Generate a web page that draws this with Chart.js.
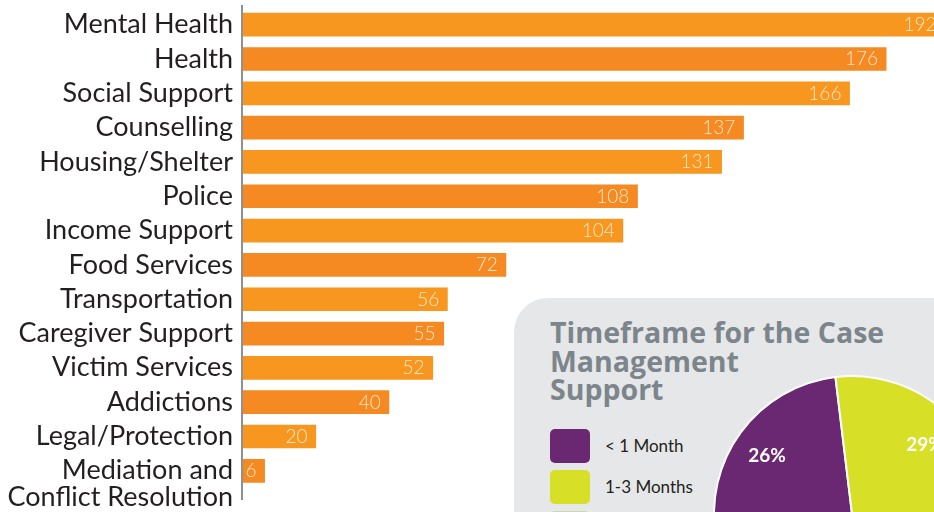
<!DOCTYPE html>
<html>
<head>
<meta charset="utf-8">
<script src="https://cdn.jsdelivr.net/npm/chart.js@4.4.1/dist/chart.umd.min.js"></script>
<style>
html,body{margin:0;padding:0;background:#fff;overflow:hidden;width:934px;height:512px}
#wrap{position:relative;width:934px;height:512px;overflow:hidden}
#bar{position:absolute;left:0;top:0}
#box{position:absolute;left:514px;top:298px;width:460px;height:260px;background:#E6E7E8;border-top-left-radius:34px}
#title{position:absolute;left:550px;top:318px;font:bold 28.5px 'Open Sans';color:#7C858B;line-height:28.5px;white-space:nowrap}
.sw{position:absolute;left:550px;width:40px;height:34px;border-radius:5px}
.lt{position:absolute;left:605px;font:17px Lato;color:#231F20;line-height:20px;white-space:nowrap}
#pie{position:absolute;left:692px;top:354px}
</style>
</head>
<body>
<div id="wrap">
  <canvas id="bar" width="934" height="512"></canvas>
  <div id="box"></div>
  <div id="title">Timeframe for the Case<br>Management<br>Support</div>
  <div id="legend"></div>
  <canvas id="pie" width="320" height="320"></canvas>
</div>
<script>
// ---- bar chart data ----
const categories = ['Mental Health','Health','Social Support','Counselling','Housing/Shelter','Police','Income Support','Food Services','Transportation','Caregiver Support','Victim Services','Addictions','Legal/Protection',['Mediation and','Conflict Resolution']];
const values = [192,176,166,137,131,108,104,72,56,55,52,40,20,6];
const barLight = '#F7971F';
const barDark = '#F48A21';

// ---- pie chart data ----
const pieLabels = ['< 1 Month','1-3 Months','3+ Months'];
const pieValues = [26,29,45];
const pieColors = ['#6A2873','#D7DF27','#C8DAA6'];

const barColors = values.map((v,i)=> i%2===0 ? barLight : barDark);

const barDecor = {
  id:'barDecor',
  afterDraw(chart){
    const ctx = chart.ctx;
    const ca = chart.chartArea;
    const ys = chart.scales.y;
    // axis line
    ctx.save();
    ctx.strokeStyle = '#8E9194';
    ctx.lineWidth = 2;
    ctx.beginPath();
    ctx.moveTo(ca.left-1, ca.top-2.5);
    ctx.lineTo(ca.left-1, ca.bottom+12);
    ctx.stroke();
    // category labels
    ctx.fillStyle = '#231F20';
    ctx.font = '27px Lato';
    ctx.textAlign = 'right';
    ctx.textBaseline = 'alphabetic';
    categories.forEach((c,i)=>{
      const lines = Array.isArray(c) ? c : [c];
      const y = ys.getPixelForValue(i);
      lines.forEach((ln,j)=> ctx.fillText(ln, ca.left-10, y + 8.6 + j*27));
    });
    // value labels
    const meta = chart.getDatasetMeta(0);
    ctx.fillStyle = '#FDE6C8';
    ctx.font = '300 19px Lato';
    meta.data.forEach((bar,i)=>{
      ctx.fillText(String(values[i]), bar.x - 8.5, bar.y + 6.5);
    });
    ctx.restore();
  }
};

new Chart(document.getElementById('bar'), {
  type:'bar',
  data:{ labels: categories, datasets:[{ data: values, backgroundColor: barColors, borderWidth:0, barPercentage:0.69, categoryPercentage:1 }] },
  options:{
    indexAxis:'y', responsive:false, animation:false, devicePixelRatio:1,
    layout:{ padding:{ left:243, right:0, top:7.5, bottom:24 } },
    plugins:{ legend:{display:false}, tooltip:{enabled:false} },
    scales:{
      x:{ display:false, min:0, max:189 },
      y:{ display:false }
    }
  },
  plugins:[barDecor]
});

// legend (html)
const legend = document.getElementById('legend');
pieLabels.forEach((l,i)=>{
  const top = 429 + i*41;
  const sw = document.createElement('div');
  sw.className='sw'; sw.style.top = top+'px'; sw.style.background = pieColors[i];
  legend.appendChild(sw);
  const t = document.createElement('div');
  t.className='lt'; t.style.top = (top+7)+'px'; t.textContent = l;
  legend.appendChild(t);
});

const pieLabelPlugin = {
  id:'pieLabels',
  afterDatasetsDraw(chart){
    const ctx = chart.ctx;
    const meta = chart.getDatasetMeta(0);
    ctx.save();
    ctx.fillStyle = '#fff';
    ctx.font = 'bold 19px Lato';
    ctx.textAlign = 'center';
    ctx.textBaseline = 'middle';
    meta.data.forEach((arc,i)=>{
      const a = (arc.startAngle + arc.endAngle)/2;
      const r = arc.outerRadius*0.755;
      ctx.fillText(pieValues[i]+'%', arc.x + Math.cos(a)*r - 1, arc.y + Math.sin(a)*r + 4);
    });
    ctx.restore();
  }
};

new Chart(document.getElementById('pie'), {
  type:'pie',
  data:{ labels: pieLabels, datasets:[{ data: pieValues, backgroundColor: pieColors, borderColor:'#ffffff', borderWidth:2 }] },
  options:{
    responsive:false, animation:false, devicePixelRatio:1,
    radius:138, rotation:-100.5,
    layout:{ padding:0 },
    plugins:{ legend:{display:false}, tooltip:{enabled:false} }
  },
  plugins:[pieLabelPlugin]
});
</script>
</body>
</html>
